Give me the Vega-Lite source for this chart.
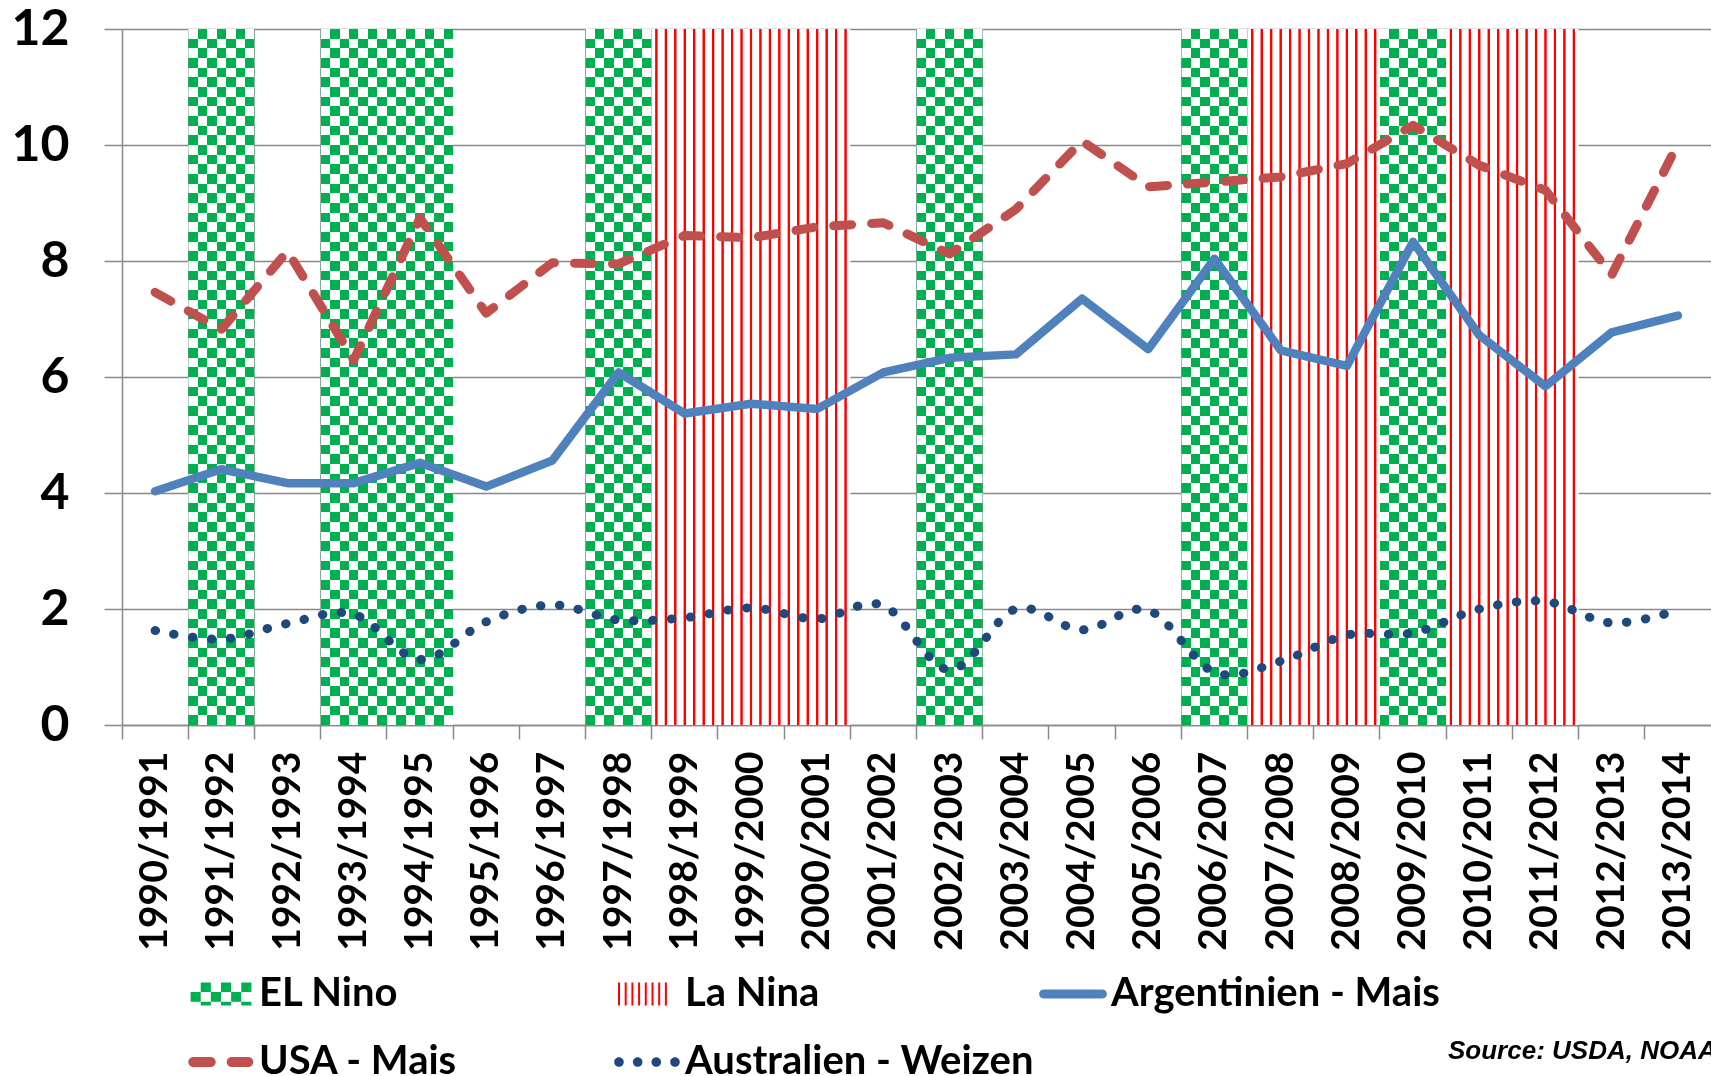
{
  "$schema": "https://vega.github.io/schema/vega-lite/v6.json",
  "width": 1589,
  "height": 696,
  "autosize": {"type": "none"},
  "padding": {"left": 122, "top": 29, "right": 0, "bottom": 351},
  "background": "white",
  "config": {
    "view": {"stroke": null},
    "axisX": {"bandPosition": 0, "grid": false, "domain": true, "domainColor": "#898989", "domainWidth": 1.5, "ticks": true, "tickColor": "#898989", "tickWidth": 1.5, "tickSize": 14, "labelAngle": -90, "labelAlign": "right", "labelBaseline": "middle", "labelFont": "Lato", "labelFontWeight": "bold", "labelFontSize": 39, "labelColor": "#000", "labelPadding": 12, "labelLimit": 400, "labelOverlap": false, "zindex": 1},
    "axisY": {"tickCount": 6, "grid": true, "gridColor": "#898989", "gridWidth": 1.5, "domain": true, "domainColor": "#898989", "domainWidth": 1.5, "ticks": true, "tickColor": "#898989", "tickWidth": 1.5, "tickSize": 18, "labelFont": "Lato", "labelFontWeight": "bold", "labelFontSize": 50, "labelColor": "#000", "labelPadding": 35, "zindex": 0}
  },
  "title": {"text": "Source: USDA, NOAA", "orient": "top", "anchor": "start", "frame": "group", "dx": 1326, "dy": 1081, "offset": 0, "baseline": "alphabetic", "font": "Liberation Sans", "fontSize": 26, "fontStyle": "italic", "fontWeight": "bold", "color": "#000"},
  "datasets": {
    "enso": [
      {"type": "EL Nino", "start": "1991/1992", "next": "1992/1993", "n": 1},
      {"type": "EL Nino", "start": "1993/1994", "next": "1995/1996", "n": 2},
      {"type": "EL Nino", "start": "1997/1998", "next": "1998/1999", "n": 1},
      {"type": "EL Nino", "start": "2002/2003", "next": "2003/2004", "n": 1},
      {"type": "EL Nino", "start": "2006/2007", "next": "2007/2008", "n": 1},
      {"type": "EL Nino", "start": "2009/2010", "next": "2010/2011", "n": 1},
      {"type": "La Nina", "start": "1998/1999", "next": "2001/2002", "n": 3},
      {"type": "La Nina", "start": "2007/2008", "next": "2009/2010", "n": 2},
      {"type": "La Nina", "start": "2010/2011", "next": "2012/2013", "n": 2}
    ],
    "yields": [
      {"season": "1990/1991", "arg": 4.03, "usa": 7.46, "aus": 1.63},
      {"season": "1991/1992", "arg": 4.41, "usa": 6.82, "aus": 1.48},
      {"season": "1992/1993", "arg": 4.17, "usa": 8.17, "aus": 1.75},
      {"season": "1993/1994", "arg": 4.17, "usa": 6.29, "aus": 1.91},
      {"season": "1994/1995", "arg": 4.52, "usa": 8.74, "aus": 1.13},
      {"season": "1995/1996", "arg": 4.11, "usa": 7.10, "aus": 1.78},
      {"season": "1996/1997", "arg": 4.56, "usa": 7.97, "aus": 2.07},
      {"season": "1997/1998", "arg": 6.08, "usa": 7.95, "aus": 1.81},
      {"season": "1998/1999", "arg": 5.37, "usa": 8.44, "aus": 1.85},
      {"season": "1999/2000", "arg": 5.54, "usa": 8.40, "aus": 2.02},
      {"season": "2000/2001", "arg": 5.45, "usa": 8.59, "aus": 1.83},
      {"season": "2001/2002", "arg": 6.08, "usa": 8.66, "aus": 2.06},
      {"season": "2002/2003", "arg": 6.33, "usa": 8.12, "aus": 0.95},
      {"season": "2003/2004", "arg": 6.39, "usa": 8.89, "aus": 2.00},
      {"season": "2004/2005", "arg": 7.35, "usa": 10.07, "aus": 1.64},
      {"season": "2005/2006", "arg": 6.48, "usa": 9.28, "aus": 1.98},
      {"season": "2006/2007", "arg": 8.04, "usa": 9.36, "aus": 0.91},
      {"season": "2007/2008", "arg": 6.46, "usa": 9.45, "aus": 1.10},
      {"season": "2008/2009", "arg": 6.19, "usa": 9.68, "aus": 1.55},
      {"season": "2009/2010", "arg": 8.33, "usa": 10.34, "aus": 1.59},
      {"season": "2010/2011", "arg": 6.72, "usa": 9.65, "aus": 2.00},
      {"season": "2011/2012", "arg": 5.84, "usa": 9.22, "aus": 2.13},
      {"season": "2012/2013", "arg": 6.77, "usa": 7.76, "aus": 1.76},
      {"season": "2013/2014", "arg": 7.06, "usa": 10.02, "aus": 1.98}
    ],
    "legendItems": [
      {"series": "EL Nino"},
      {"series": "La Nina"},
      {"series": "Argentinien - Mais"},
      {"series": "USA - Mais"},
      {"series": "Australien - Weizen"}
    ]
  },
  "layer": [
    {
      "data": {"name": "enso"},
      "transform": [{"filter": "datum.type === 'EL Nino' && datum.n === 1"}],
      "mark": {"type": "rect", "fill": {"gradient": "linear", "x1": 0, "y1": 0, "x2": 1, "y2": 0, "stops": [
        {"offset": 0, "color": "#000"}, {"offset": 0.142857, "color": "#000"}, {"offset": 0.142857, "color": "#fff"}, {"offset": 0.285714, "color": "#fff"}, {"offset": 0.285714, "color": "#000"}, {"offset": 0.428571, "color": "#000"}, {"offset": 0.428571, "color": "#fff"}, {"offset": 0.571429, "color": "#fff"}, {"offset": 0.571429, "color": "#000"}, {"offset": 0.714286, "color": "#000"}, {"offset": 0.714286, "color": "#fff"}, {"offset": 0.857143, "color": "#fff"}, {"offset": 0.857143, "color": "#000"}, {"offset": 1, "color": "#000"}]}},
      "encoding": {
        "x": {"field": "start", "type": "ordinal", "title": null, "bandPosition": 0, "scale": {"type": "band", "paddingInner": 0, "paddingOuter": 0, "domain": ["1990/1991", "1991/1992", "1992/1993", "1993/1994", "1994/1995", "1995/1996", "1996/1997", "1997/1998", "1998/1999", "1999/2000", "2000/2001", "2001/2002", "2002/2003", "2003/2004", "2004/2005", "2005/2006", "2006/2007", "2007/2008", "2008/2009", "2009/2010", "2010/2011", "2011/2012", "2012/2013", "2013/2014"]}},
        "x2": {"field": "next", "bandPosition": 0},
        "y": {"datum": 12, "type": "quantitative", "title": null, "scale": {"domain": [0, 12]}},
        "y2": {"datum": 0}
      }
    },
    {
      "data": {"name": "enso"},
      "transform": [{"filter": "datum.type === 'EL Nino' && datum.n === 2"}],
      "mark": {"type": "rect", "fill": {"gradient": "linear", "x1": 0, "y1": 0, "x2": 1, "y2": 0, "stops": [
        {"offset": 0, "color": "#000"}, {"offset": 0.071429, "color": "#000"}, {"offset": 0.071429, "color": "#fff"}, {"offset": 0.142857, "color": "#fff"}, {"offset": 0.142857, "color": "#000"}, {"offset": 0.214286, "color": "#000"}, {"offset": 0.214286, "color": "#fff"}, {"offset": 0.285714, "color": "#fff"}, {"offset": 0.285714, "color": "#000"}, {"offset": 0.357143, "color": "#000"}, {"offset": 0.357143, "color": "#fff"}, {"offset": 0.428571, "color": "#fff"}, {"offset": 0.428571, "color": "#000"}, {"offset": 0.5, "color": "#000"}, {"offset": 0.5, "color": "#fff"}, {"offset": 0.571429, "color": "#fff"}, {"offset": 0.571429, "color": "#000"}, {"offset": 0.642857, "color": "#000"}, {"offset": 0.642857, "color": "#fff"}, {"offset": 0.714286, "color": "#fff"}, {"offset": 0.714286, "color": "#000"}, {"offset": 0.785714, "color": "#000"}, {"offset": 0.785714, "color": "#fff"}, {"offset": 0.857143, "color": "#fff"}, {"offset": 0.857143, "color": "#000"}, {"offset": 0.928571, "color": "#000"}, {"offset": 0.928571, "color": "#fff"}, {"offset": 1, "color": "#fff"}]}},
      "encoding": {
        "x": {"field": "start", "type": "ordinal", "title": null, "bandPosition": 0},
        "x2": {"field": "next", "bandPosition": 0},
        "y": {"datum": 12, "type": "quantitative", "title": null},
        "y2": {"datum": 0}
      }
    },
    {
      "data": {"name": "enso"},
      "transform": [{"filter": "datum.type === 'EL Nino'"}],
      "mark": {"type": "rect", "blend": "difference", "fill": {"gradient": "linear", "x1": 0, "y1": 0, "x2": 0, "y2": 1, "stops": [
        {"offset": 0, "color": "#fff"}, {"offset": 0.013889, "color": "#fff"}, {"offset": 0.013889, "color": "#000"}, {"offset": 0.027778, "color": "#000"},
        {"offset": 0.027778, "color": "#fff"}, {"offset": 0.041667, "color": "#fff"}, {"offset": 0.041667, "color": "#000"}, {"offset": 0.055556, "color": "#000"},
        {"offset": 0.055556, "color": "#fff"}, {"offset": 0.069444, "color": "#fff"}, {"offset": 0.069444, "color": "#000"}, {"offset": 0.083333, "color": "#000"},
        {"offset": 0.083333, "color": "#fff"}, {"offset": 0.097222, "color": "#fff"}, {"offset": 0.097222, "color": "#000"}, {"offset": 0.111111, "color": "#000"},
        {"offset": 0.111111, "color": "#fff"}, {"offset": 0.125, "color": "#fff"}, {"offset": 0.125, "color": "#000"}, {"offset": 0.138889, "color": "#000"},
        {"offset": 0.138889, "color": "#fff"}, {"offset": 0.152778, "color": "#fff"}, {"offset": 0.152778, "color": "#000"}, {"offset": 0.166667, "color": "#000"},
        {"offset": 0.166667, "color": "#fff"}, {"offset": 0.180556, "color": "#fff"}, {"offset": 0.180556, "color": "#000"}, {"offset": 0.194444, "color": "#000"},
        {"offset": 0.194444, "color": "#fff"}, {"offset": 0.208333, "color": "#fff"}, {"offset": 0.208333, "color": "#000"}, {"offset": 0.222222, "color": "#000"},
        {"offset": 0.222222, "color": "#fff"}, {"offset": 0.236111, "color": "#fff"}, {"offset": 0.236111, "color": "#000"}, {"offset": 0.25, "color": "#000"},
        {"offset": 0.25, "color": "#fff"}, {"offset": 0.263889, "color": "#fff"}, {"offset": 0.263889, "color": "#000"}, {"offset": 0.277778, "color": "#000"},
        {"offset": 0.277778, "color": "#fff"}, {"offset": 0.291667, "color": "#fff"}, {"offset": 0.291667, "color": "#000"}, {"offset": 0.305556, "color": "#000"},
        {"offset": 0.305556, "color": "#fff"}, {"offset": 0.319444, "color": "#fff"}, {"offset": 0.319444, "color": "#000"}, {"offset": 0.333333, "color": "#000"},
        {"offset": 0.333333, "color": "#fff"}, {"offset": 0.347222, "color": "#fff"}, {"offset": 0.347222, "color": "#000"}, {"offset": 0.361111, "color": "#000"},
        {"offset": 0.361111, "color": "#fff"}, {"offset": 0.375, "color": "#fff"}, {"offset": 0.375, "color": "#000"}, {"offset": 0.388889, "color": "#000"},
        {"offset": 0.388889, "color": "#fff"}, {"offset": 0.402778, "color": "#fff"}, {"offset": 0.402778, "color": "#000"}, {"offset": 0.416667, "color": "#000"},
        {"offset": 0.416667, "color": "#fff"}, {"offset": 0.430556, "color": "#fff"}, {"offset": 0.430556, "color": "#000"}, {"offset": 0.444444, "color": "#000"},
        {"offset": 0.444444, "color": "#fff"}, {"offset": 0.458333, "color": "#fff"}, {"offset": 0.458333, "color": "#000"}, {"offset": 0.472222, "color": "#000"},
        {"offset": 0.472222, "color": "#fff"}, {"offset": 0.486111, "color": "#fff"}, {"offset": 0.486111, "color": "#000"}, {"offset": 0.5, "color": "#000"},
        {"offset": 0.5, "color": "#fff"}, {"offset": 0.513889, "color": "#fff"}, {"offset": 0.513889, "color": "#000"}, {"offset": 0.527778, "color": "#000"},
        {"offset": 0.527778, "color": "#fff"}, {"offset": 0.541667, "color": "#fff"}, {"offset": 0.541667, "color": "#000"}, {"offset": 0.555556, "color": "#000"},
        {"offset": 0.555556, "color": "#fff"}, {"offset": 0.569444, "color": "#fff"}, {"offset": 0.569444, "color": "#000"}, {"offset": 0.583333, "color": "#000"},
        {"offset": 0.583333, "color": "#fff"}, {"offset": 0.597222, "color": "#fff"}, {"offset": 0.597222, "color": "#000"}, {"offset": 0.611111, "color": "#000"},
        {"offset": 0.611111, "color": "#fff"}, {"offset": 0.625, "color": "#fff"}, {"offset": 0.625, "color": "#000"}, {"offset": 0.638889, "color": "#000"},
        {"offset": 0.638889, "color": "#fff"}, {"offset": 0.652778, "color": "#fff"}, {"offset": 0.652778, "color": "#000"}, {"offset": 0.666667, "color": "#000"},
        {"offset": 0.666667, "color": "#fff"}, {"offset": 0.680556, "color": "#fff"}, {"offset": 0.680556, "color": "#000"}, {"offset": 0.694444, "color": "#000"},
        {"offset": 0.694444, "color": "#fff"}, {"offset": 0.708333, "color": "#fff"}, {"offset": 0.708333, "color": "#000"}, {"offset": 0.722222, "color": "#000"},
        {"offset": 0.722222, "color": "#fff"}, {"offset": 0.736111, "color": "#fff"}, {"offset": 0.736111, "color": "#000"}, {"offset": 0.75, "color": "#000"},
        {"offset": 0.75, "color": "#fff"}, {"offset": 0.763889, "color": "#fff"}, {"offset": 0.763889, "color": "#000"}, {"offset": 0.777778, "color": "#000"},
        {"offset": 0.777778, "color": "#fff"}, {"offset": 0.791667, "color": "#fff"}, {"offset": 0.791667, "color": "#000"}, {"offset": 0.805556, "color": "#000"},
        {"offset": 0.805556, "color": "#fff"}, {"offset": 0.819444, "color": "#fff"}, {"offset": 0.819444, "color": "#000"}, {"offset": 0.833333, "color": "#000"},
        {"offset": 0.833333, "color": "#fff"}, {"offset": 0.847222, "color": "#fff"}, {"offset": 0.847222, "color": "#000"}, {"offset": 0.861111, "color": "#000"},
        {"offset": 0.861111, "color": "#fff"}, {"offset": 0.875, "color": "#fff"}, {"offset": 0.875, "color": "#000"}, {"offset": 0.888889, "color": "#000"},
        {"offset": 0.888889, "color": "#fff"}, {"offset": 0.902778, "color": "#fff"}, {"offset": 0.902778, "color": "#000"}, {"offset": 0.916667, "color": "#000"},
        {"offset": 0.916667, "color": "#fff"}, {"offset": 0.930556, "color": "#fff"}, {"offset": 0.930556, "color": "#000"}, {"offset": 0.944444, "color": "#000"},
        {"offset": 0.944444, "color": "#fff"}, {"offset": 0.958333, "color": "#fff"}, {"offset": 0.958333, "color": "#000"}, {"offset": 0.972222, "color": "#000"},
        {"offset": 0.972222, "color": "#fff"}, {"offset": 0.986111, "color": "#fff"}, {"offset": 0.986111, "color": "#000"}, {"offset": 1, "color": "#000"}]}},
      "encoding": {
        "x": {"field": "start", "type": "ordinal", "title": null, "bandPosition": 0},
        "x2": {"field": "next", "bandPosition": 0},
        "y": {"datum": 12, "type": "quantitative", "title": null},
        "y2": {"datum": 0}
      }
    },
    {
      "data": {"name": "enso"},
      "transform": [{"filter": "datum.type === 'EL Nino'"}],
      "mark": {"type": "rect", "blend": "screen", "fill": "#00B050"},
      "encoding": {
        "x": {"field": "start", "type": "ordinal", "title": null, "bandPosition": 0},
        "x2": {"field": "next", "bandPosition": 0},
        "y": {"datum": 12, "type": "quantitative", "title": null},
        "y2": {"datum": 0}
      }
    },
    {
      "data": {"name": "enso"},
      "transform": [{"filter": "datum.type === 'La Nina' && datum.n === 2"}],
      "mark": {"type": "rect", "fill": {"gradient": "linear", "x1": 0, "y1": 0, "x2": 1, "y2": 0, "stops": [
        {"offset": 0, "color": "#fff"},
        {"offset": 0.023714, "color": "#fff"}, {"offset": 0.029714, "color": "#f00"}, {"offset": 0.041714, "color": "#f00"}, {"offset": 0.047714, "color": "#fff"},
        {"offset": 0.095143, "color": "#fff"}, {"offset": 0.101143, "color": "#f00"}, {"offset": 0.113143, "color": "#f00"}, {"offset": 0.119143, "color": "#fff"},
        {"offset": 0.166571, "color": "#fff"}, {"offset": 0.172571, "color": "#f00"}, {"offset": 0.184571, "color": "#f00"}, {"offset": 0.190571, "color": "#fff"},
        {"offset": 0.238, "color": "#fff"}, {"offset": 0.244, "color": "#f00"}, {"offset": 0.256, "color": "#f00"}, {"offset": 0.262, "color": "#fff"},
        {"offset": 0.309429, "color": "#fff"}, {"offset": 0.315429, "color": "#f00"}, {"offset": 0.327429, "color": "#f00"}, {"offset": 0.333429, "color": "#fff"},
        {"offset": 0.380857, "color": "#fff"}, {"offset": 0.386857, "color": "#f00"}, {"offset": 0.398857, "color": "#f00"}, {"offset": 0.404857, "color": "#fff"},
        {"offset": 0.452286, "color": "#fff"}, {"offset": 0.458286, "color": "#f00"}, {"offset": 0.470286, "color": "#f00"}, {"offset": 0.476286, "color": "#fff"},
        {"offset": 0.523714, "color": "#fff"}, {"offset": 0.529714, "color": "#f00"}, {"offset": 0.541714, "color": "#f00"}, {"offset": 0.547714, "color": "#fff"},
        {"offset": 0.595143, "color": "#fff"}, {"offset": 0.601143, "color": "#f00"}, {"offset": 0.613143, "color": "#f00"}, {"offset": 0.619143, "color": "#fff"},
        {"offset": 0.666571, "color": "#fff"}, {"offset": 0.672571, "color": "#f00"}, {"offset": 0.684571, "color": "#f00"}, {"offset": 0.690571, "color": "#fff"},
        {"offset": 0.738, "color": "#fff"}, {"offset": 0.744, "color": "#f00"}, {"offset": 0.756, "color": "#f00"}, {"offset": 0.762, "color": "#fff"},
        {"offset": 0.809429, "color": "#fff"}, {"offset": 0.815429, "color": "#f00"}, {"offset": 0.827429, "color": "#f00"}, {"offset": 0.833429, "color": "#fff"},
        {"offset": 0.880857, "color": "#fff"}, {"offset": 0.886857, "color": "#f00"}, {"offset": 0.898857, "color": "#f00"}, {"offset": 0.904857, "color": "#fff"},
        {"offset": 0.952286, "color": "#fff"}, {"offset": 0.958286, "color": "#f00"}, {"offset": 0.970286, "color": "#f00"}, {"offset": 0.976286, "color": "#fff"},
        {"offset": 1, "color": "#fff"}]}},
      "encoding": {
        "x": {"field": "start", "type": "ordinal", "title": null, "bandPosition": 0},
        "x2": {"field": "next", "bandPosition": 0},
        "y": {"datum": 12, "type": "quantitative", "title": null},
        "y2": {"datum": 0}
      }
    },
    {
      "data": {"name": "enso"},
      "transform": [{"filter": "datum.type === 'La Nina' && datum.n === 3"}],
      "mark": {"type": "rect", "fill": {"gradient": "linear", "x1": 0, "y1": 0, "x2": 1, "y2": 0, "stops": [
        {"offset": 0, "color": "#fff"},
        {"offset": 0.01581, "color": "#fff"}, {"offset": 0.01981, "color": "#f00"}, {"offset": 0.02781, "color": "#f00"}, {"offset": 0.03181, "color": "#fff"},
        {"offset": 0.063429, "color": "#fff"}, {"offset": 0.067429, "color": "#f00"}, {"offset": 0.075429, "color": "#f00"}, {"offset": 0.079429, "color": "#fff"},
        {"offset": 0.111048, "color": "#fff"}, {"offset": 0.115048, "color": "#f00"}, {"offset": 0.123048, "color": "#f00"}, {"offset": 0.127048, "color": "#fff"},
        {"offset": 0.158667, "color": "#fff"}, {"offset": 0.162667, "color": "#f00"}, {"offset": 0.170667, "color": "#f00"}, {"offset": 0.174667, "color": "#fff"},
        {"offset": 0.206286, "color": "#fff"}, {"offset": 0.210286, "color": "#f00"}, {"offset": 0.218286, "color": "#f00"}, {"offset": 0.222286, "color": "#fff"},
        {"offset": 0.253905, "color": "#fff"}, {"offset": 0.257905, "color": "#f00"}, {"offset": 0.265905, "color": "#f00"}, {"offset": 0.269905, "color": "#fff"},
        {"offset": 0.301524, "color": "#fff"}, {"offset": 0.305524, "color": "#f00"}, {"offset": 0.313524, "color": "#f00"}, {"offset": 0.317524, "color": "#fff"},
        {"offset": 0.349143, "color": "#fff"}, {"offset": 0.353143, "color": "#f00"}, {"offset": 0.361143, "color": "#f00"}, {"offset": 0.365143, "color": "#fff"},
        {"offset": 0.396762, "color": "#fff"}, {"offset": 0.400762, "color": "#f00"}, {"offset": 0.408762, "color": "#f00"}, {"offset": 0.412762, "color": "#fff"},
        {"offset": 0.444381, "color": "#fff"}, {"offset": 0.448381, "color": "#f00"}, {"offset": 0.456381, "color": "#f00"}, {"offset": 0.460381, "color": "#fff"},
        {"offset": 0.492, "color": "#fff"}, {"offset": 0.496, "color": "#f00"}, {"offset": 0.504, "color": "#f00"}, {"offset": 0.508, "color": "#fff"},
        {"offset": 0.539619, "color": "#fff"}, {"offset": 0.543619, "color": "#f00"}, {"offset": 0.551619, "color": "#f00"}, {"offset": 0.555619, "color": "#fff"},
        {"offset": 0.587238, "color": "#fff"}, {"offset": 0.591238, "color": "#f00"}, {"offset": 0.599238, "color": "#f00"}, {"offset": 0.603238, "color": "#fff"},
        {"offset": 0.634857, "color": "#fff"}, {"offset": 0.638857, "color": "#f00"}, {"offset": 0.646857, "color": "#f00"}, {"offset": 0.650857, "color": "#fff"},
        {"offset": 0.682476, "color": "#fff"}, {"offset": 0.686476, "color": "#f00"}, {"offset": 0.694476, "color": "#f00"}, {"offset": 0.698476, "color": "#fff"},
        {"offset": 0.730095, "color": "#fff"}, {"offset": 0.734095, "color": "#f00"}, {"offset": 0.742095, "color": "#f00"}, {"offset": 0.746095, "color": "#fff"},
        {"offset": 0.777714, "color": "#fff"}, {"offset": 0.781714, "color": "#f00"}, {"offset": 0.789714, "color": "#f00"}, {"offset": 0.793714, "color": "#fff"},
        {"offset": 0.825333, "color": "#fff"}, {"offset": 0.829333, "color": "#f00"}, {"offset": 0.837333, "color": "#f00"}, {"offset": 0.841333, "color": "#fff"},
        {"offset": 0.872952, "color": "#fff"}, {"offset": 0.876952, "color": "#f00"}, {"offset": 0.884952, "color": "#f00"}, {"offset": 0.888952, "color": "#fff"},
        {"offset": 0.920571, "color": "#fff"}, {"offset": 0.924571, "color": "#f00"}, {"offset": 0.932571, "color": "#f00"}, {"offset": 0.936571, "color": "#fff"},
        {"offset": 0.96819, "color": "#fff"}, {"offset": 0.97219, "color": "#f00"}, {"offset": 0.98019, "color": "#f00"}, {"offset": 0.98419, "color": "#fff"},
        {"offset": 1, "color": "#fff"}]}},
      "encoding": {
        "x": {"field": "start", "type": "ordinal", "title": null, "bandPosition": 0},
        "x2": {"field": "next", "bandPosition": 0},
        "y": {"datum": 12, "type": "quantitative", "title": null},
        "y2": {"datum": 0}
      }
    },
    {
      "data": {"name": "yields"},
      "mark": {"type": "line", "color": "#4F81BD", "strokeWidth": 8.5, "strokeCap": "round", "strokeJoin": "round"},
      "encoding": {
        "x": {"field": "season", "type": "ordinal", "title": null},
        "y": {"field": "arg", "type": "quantitative", "title": null}
      }
    },
    {
      "data": {"name": "yields"},
      "mark": {"type": "line", "color": "#C0504D", "strokeWidth": 9, "strokeCap": "round", "strokeJoin": "round", "strokeDash": [18, 20]},
      "encoding": {
        "x": {"field": "season", "type": "ordinal", "title": null},
        "y": {"field": "usa", "type": "quantitative", "title": null}
      }
    },
    {
      "data": {"name": "yields"},
      "mark": {"type": "line", "color": "#1F497D", "strokeWidth": 9, "strokeCap": "round", "strokeJoin": "round", "strokeDash": [0.5, 18.5], "interpolate": "cardinal"},
      "encoding": {
        "x": {"field": "season", "type": "ordinal", "title": null},
        "y": {"field": "aus", "type": "quantitative", "title": null}
      }
    },
    {
      "data": {"name": "legendItems"},
      "mark": {"type": "point", "filled": true, "opacity": 0},
      "encoding": {
        "color": {"field": "series", "type": "nominal",
          "scale": {"domain": ["EL Nino", "La Nina", "Argentinien - Mais", "USA - Mais", "Australien - Weizen"], "range": ["#00B050", "#FF0000", "#4F81BD", "#C0504D", "#1F497D"]},
          "legend": {"title": null, "orient": "none", "legendX": 67, "legendY": 933, "direction": "horizontal", "columns": 3, "gridAlign": "all", "columnPadding": 5, "rowPadding": 16, "padding": 0, "symbolSize": 4096, "symbolStrokeWidth": 0, "symbolOpacity": 1, "labelFont": "Lato", "labelFontWeight": "bold", "labelFontSize": 40, "labelColor": "#000", "labelOffset": 6, "labelLimit": 600}},
        "shape": {"field": "series", "type": "nominal",
          "scale": {"domain": ["EL Nino", "La Nina", "Argentinien - Mais", "USA - Mais", "Australien - Weizen"], "range": [
            "M-0.633,-0.36H-0.317V-0.06H-0.633Z M0,-0.36H0.317V-0.06H0Z M0.633,-0.36H0.95V-0.06H0.633Z M-0.95,-0.06H-0.633V0.24H-0.95Z M-0.317,-0.06H0V0.24H-0.317Z M0.317,-0.06H0.633V0.24H0.317Z M-0.633,0.24H-0.317V0.36H-0.633Z M0,0.24H0.317V0.36H0Z M0.633,0.24H0.95V0.36H0.633Z",
            "M-0.906,-0.36H-0.8435V0.36H-0.906Z M-0.697,-0.36H-0.6345V0.36H-0.697Z M-0.4875,-0.36H-0.425V0.36H-0.4875Z M-0.278,-0.36H-0.2155V0.36H-0.278Z M-0.069,-0.36H-0.0065V0.36H-0.069Z M0.141,-0.36H0.2035V0.36H0.141Z M0.35,-0.36H0.4125V0.36H0.35Z M0.559,-0.36H0.6215V0.36H0.559Z",
            "M-0.92,-0.14H0.92A0.14,0.14 0 0 1 0.92,0.14H-0.92A0.14,0.14 0 0 1 -0.92,-0.14Z",
            "M-0.864,-0.156H-0.322A0.156,0.156 0 0 1 -0.322,0.156H-0.864A0.156,0.156 0 0 1 -0.864,-0.156Z M0.334,-0.156H0.854A0.156,0.156 0 0 1 0.854,0.156H0.334A0.156,0.156 0 0 1 0.334,-0.156Z",
            "M-1.025,0A0.15,0.15 0 1 0 -0.725,0A0.15,0.15 0 1 0 -1.025,0Z M-0.4406,0A0.15,0.15 0 1 0 -0.1406,0A0.15,0.15 0 1 0 -0.4406,0Z M0.1406,0A0.15,0.15 0 1 0 0.4406,0A0.15,0.15 0 1 0 0.1406,0Z M0.725,0A0.15,0.15 0 1 0 1.025,0A0.15,0.15 0 1 0 0.725,0Z"]},
          "legend": {"title": null, "orient": "none", "legendX": 67, "legendY": 933, "direction": "horizontal", "columns": 3, "gridAlign": "all", "columnPadding": 5, "rowPadding": 16, "padding": 0, "symbolSize": 4096, "symbolStrokeWidth": 0, "symbolOpacity": 1, "labelFont": "Lato", "labelFontWeight": "bold", "labelFontSize": 40, "labelColor": "#000", "labelOffset": 6, "labelLimit": 600}}
      }
    }
  ]
}
